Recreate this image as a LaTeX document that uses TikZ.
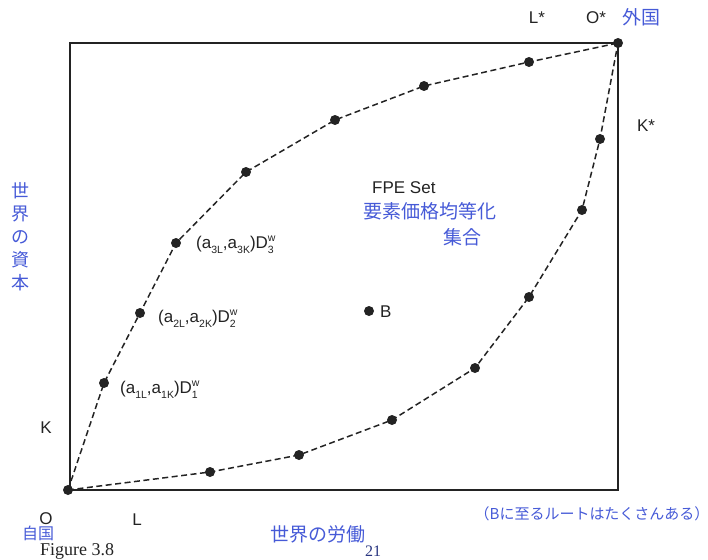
\documentclass[tikz,border=0pt]{standalone}
\usepackage{fontspec}
\setmainfont{Liberation Sans}
\newfontfamily\cjk{Noto Sans CJK JP}
\newfontfamily\serifx{Liberation Serif}
\definecolor{pen}{RGB}{70,90,215}
\definecolor{ink}{RGB}{35,35,35}
\newcommand{\smallsz}{\fontsize{10.5}{10.5}\selectfont}
\newcommand{\lo}[1]{\raisebox{-4.5pt}{\smallsz #1}}
\newcommand{\Dw}[1]{D\makebox[0pt][l]{\raisebox{7pt}{\smallsz w}}\raisebox{-5pt}{\smallsz #1}}
\begin{document}
\begin{tikzpicture}[x=1pt,y=-1pt,
  dot/.style={circle,fill=ink,inner sep=0pt,minimum size=10pt},
  lbl/.style={font=\fontsize{17}{17}\selectfont,text=ink,inner sep=0pt},
  hand/.style={font=\cjk\fontsize{19}{19}\selectfont,text=pen,inner sep=0pt},
  path1/.style={line width=1.5pt,ink,dash pattern=on 6pt off 3.5pt},
  frame/.style={line width=1.3pt,ink}]
\useasboundingbox (0,0) rectangle (708,559);
\draw[frame] (70,43) rectangle (618,490);
% dots
\node[dot] (O) at (68,490) {};
\node[dot] (Os) at (618,43) {};
\node[dot] (u1) at (104,383) {};
\node[dot] (u2) at (140,313) {};
\node[dot] (u3) at (176,243) {};
\node[dot] (u4) at (246,172) {};
\node[dot] (u5) at (335,120) {};
\node[dot] (u6) at (424,86) {};
\node[dot] (u7) at (529,62) {};
\node[dot] (l1) at (210,472) {};
\node[dot] (l2) at (299,455) {};
\node[dot] (l3) at (392,420) {};
\node[dot] (l4) at (475,368) {};
\node[dot] (l5) at (529,297) {};
\node[dot] (l6) at (582,210) {};
\node[dot] (l7) at (600,139) {};
\node[dot] (B) at (369,311) {};
\draw[path1] (O.center) -- (u1.center) -- (u2.center) -- (u3.center) -- (u4.center) -- (u5.center) -- (u6.center) -- (u7.center) -- (Os.center);
\draw[path1] (O.center) -- (l1.center) -- (l2.center) -- (l3.center) -- (l4.center) -- (l5.center) -- (l6.center) -- (l7.center) -- (Os.center);
% labels
\node[lbl,anchor=west] (t3) at (196,245) {(a\lo{3L},a\lo{3K})\Dw{3}};
\node[lbl,anchor=west] (t2) at (158,319) {(a\lo{2L},a\lo{2K})\Dw{2}};
\node[lbl,anchor=west] (t1) at (120,390) {(a\lo{1L},a\lo{1K})\Dw{1}};
\node[lbl,anchor=west] (fpe) at (372,188) {FPE Set};
\node[lbl,anchor=west] (bl) at (380,312) {B};
\node[lbl] (Ls) at (537,18) {L*};
\node[lbl] (Osl) at (596,18) {O*};
\node[lbl] (Ks) at (646,126) {K*};
\node[lbl] (K) at (46,428) {K};
\node[lbl] (Ol) at (46,519) {O};
\node[lbl] (L) at (137,520) {L};
% handwritten notes
\node[hand,anchor=west] (gaikoku) at (622,17) {外国};
\node[hand,font=\cjk\fontsize{16}{16}\selectfont] (jikoku) at (38,533) {自国};
\node[hand,anchor=west] (fpej) at (363,211) {要素価格均等化};
\node[hand] (fpej2) at (462,237) {集合};
\node[hand,align=center,font=\cjk\fontsize{18}{23}\selectfont] (shihon) at (20,237) {世\\界\\の\\資\\本};
\node[hand] (roudou) at (318,534) {世界の労働};
\node[hand,font=\cjk\fontsize{15}{15}\selectfont] (note) at (592,514) {（Bに至るルートはたくさんある）};
\node[font=\serifx\fontsize{18}{18}\selectfont,text=ink,anchor=west,inner sep=0pt] (fig) at (40,551) {Figure 3.8};
\node[font=\serifx\fontsize{16}{16}\selectfont,text=pen!60!black,inner sep=0pt] (pg) at (373,551) {21};
\end{tikzpicture}
\end{document}
